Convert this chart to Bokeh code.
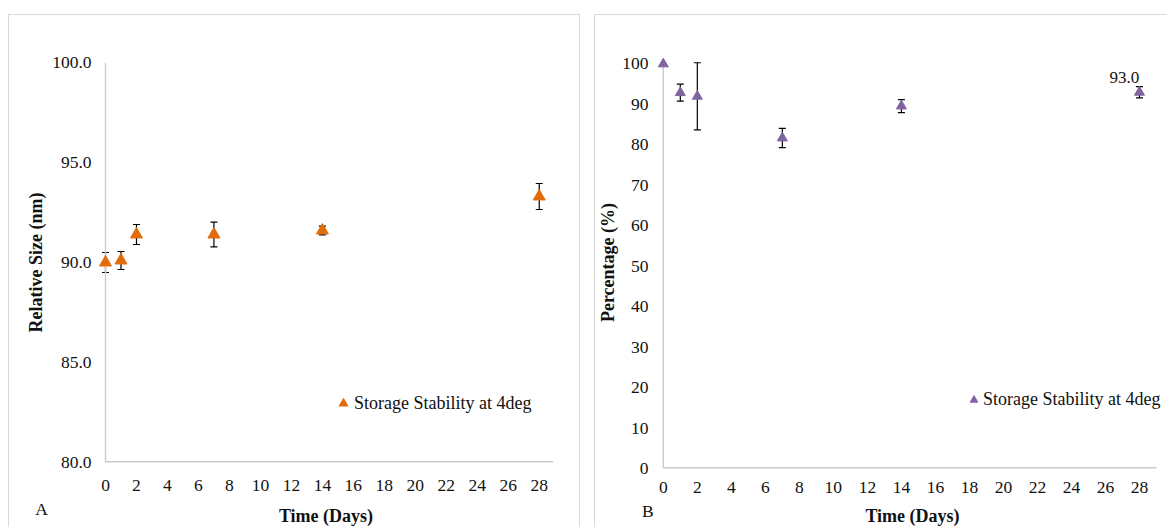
from bokeh.plotting import figure
from bokeh.models import (ColumnDataSource, Whisker, TeeHead, Legend, LegendItem,
                          FixedTicker, NumeralTickFormatter, Range1d)
from bokeh.layouts import row, column
from bokeh.embed import file_html
from bokeh.resources import INLINE
from bokeh.core.properties import value

# ---------------- data ----------------
days = [0, 1, 2, 7, 14, 28]
size_nm = [90.0, 90.1, 91.4, 91.4, 91.6, 93.3]
size_err = [0.5, 0.45, 0.5, 0.62, 0.22, 0.65]
pct = [100.0, 92.9, 92.0, 81.7, 89.6, 93.0]
pct_err = [0.0, 2.1, 8.3, 2.4, 1.6, 1.4]
x_ticks = [0, 2, 4, 6, 8, 10, 12, 14, 16, 18, 20, 22, 24, 26, 28]
y_ticks_a = [80, 85, 90, 95, 100]
y_ticks_b = [0, 10, 20, 30, 40, 50, 60, 70, 80, 90, 100]
series_name = "Storage Stability at 4deg"
x_title = "Time (Days)"
y_title_a = "Relative Size (nm)"
y_title_b = "Percentage (%)"
panel_tags = ["A", "B"]

SERIF = "Times New Roman"
AXIS_COLOR = "#cccccc"
PANEL_BORDER = "1px solid #d9d9d9"
TXT = "#111111"
NBSP = "\u00a0"


def make_panel(x, y, err, color, msize, x_range, x_axis_end, y_range,
               y_ticks, y_fmt, y_title, width, height, borders,
               lbl_std_x, title_std_x, lbl_std_y, title_std_y,
               legend_loc, glyph_box, margin, css, tag, tag_pad):
    p = figure(width=width, height=height, output_backend="svg",
               toolbar_location=None, x_range=Range1d(*x_range),
               y_range=Range1d(*y_range),
               min_border_left=borders[0], min_border_right=borders[1],
               min_border_top=borders[2], min_border_bottom=borders[3],
               styles=css, margin=margin)
    p.grid.visible = False
    p.outline_line_color = None
    p.background_fill_color = "white"
    p.border_fill_color = "white"

    for ax in (p.xaxis, p.yaxis):
        ax.axis_line_color = None  # axis lines drawn from x = 0 / y = min below
        ax.major_tick_line_color = None
        ax.minor_tick_line_color = None
        ax.major_tick_out = 0
        ax.major_tick_in = 0
        ax.major_label_text_font = SERIF
        ax.major_label_text_font_size = "17.5px"
        ax.major_label_text_color = TXT
        ax.axis_label_text_font = SERIF
        ax.axis_label_text_font_size = "18px"
        ax.axis_label_text_font_style = "bold"
        ax.axis_label_text_color = TXT

    # panel tag ("A"/"B") printed as a second line under the frame's left corner
    tag_x = x_range[0] + 0.002
    p.xaxis.ticker = FixedTicker(ticks=[tag_x] + x_ticks)
    p.xaxis.major_label_overrides = {tag_x: "\n" + tag + NBSP * tag_pad}
    p.yaxis.ticker = FixedTicker(ticks=y_ticks)
    p.yaxis.formatter = NumeralTickFormatter(format=y_fmt)
    p.xaxis.axis_label = x_title
    p.yaxis.axis_label = y_title
    p.xaxis.major_label_standoff = lbl_std_x
    p.xaxis.axis_label_standoff = title_std_x
    p.yaxis.major_label_standoff = lbl_std_y
    p.yaxis.axis_label_standoff = title_std_y

    # axis lines: y axis at x = 0, x axis along the bottom from x = 0
    p.segment(x0=[x_ticks[0]], y0=[y_ticks[0]], x1=[x_ticks[0]], y1=[y_ticks[-1]],
              line_color=AXIS_COLOR, line_width=1.4)
    p.segment(x0=[x_ticks[0]], y0=[y_range[0]], x1=[x_axis_end], y1=[y_range[0]],
              line_color=AXIS_COLOR, line_width=2.8)

    wx = [xi for xi, e in zip(x, err) if e > 0]
    wu = [yi + e for yi, e in zip(y, err) if e > 0]
    wl = [yi - e for yi, e in zip(y, err) if e > 0]
    wsrc = ColumnDataSource(dict(x=wx, upper=wu, lower=wl))
    wh = Whisker(base="x", upper="upper", lower="lower", source=wsrc,
                 line_color="black", line_width=1.2,
                 upper_head=TeeHead(size=7, line_color="black", line_width=1.2),
                 lower_head=TeeHead(size=7, line_color="black", line_width=1.2))
    p.add_layout(wh)

    src = ColumnDataSource(dict(x=x, y=y))
    r = p.scatter("x", "y", source=src, marker="triangle", size=msize,
                  fill_color=color, line_color=color)

    leg = Legend(items=[LegendItem(label=series_name, renderers=[r])],
                 location=legend_loc, padding=0, margin=0, spacing=0,
                 glyph_width=glyph_box, glyph_height=glyph_box,
                 label_standoff=0,
                 border_line_color=None, background_fill_alpha=0,
                 label_text_font=SERIF, label_text_font_size="18px",
                 label_text_color=TXT)
    p.add_layout(leg, "center")
    return p


# Panel A
pA = make_panel(days, size_nm, size_err, "#E36C0A", 12,
                (-0.452, 28.92), 28.92, (80, 100),
                y_ticks_a, "0.0", y_title_a, 572, 513,
                (89, 28, 47, 65), 12, -16, 7, 3,
                (234, 48), 22, (14, 0, 0, 8),
                {"border-top": PANEL_BORDER, "border-left": PANEL_BORDER,
                 "border-right": PANEL_BORDER},
                panel_tags[0], 26)

# Panel B
pB = make_panel(days, pct, pct_err, "#8064A2", 10,
                (-0.4, 29.706), 29.0, (0, 101.85),
                y_ticks_b, "0", y_title_b, 573, 513,
                (61, 0, 41, 59), 8, -18, 8, 1,
                (308, 58), 19, (14, 0, 0, 14),
                {"border-top": PANEL_BORDER, "border-left": PANEL_BORDER},
                panel_tags[1], 4)
last = len(days) - 1
lab_src = ColumnDataSource(dict(x=[days[last]], y=[pct[last]],
                                t=[f"{pct[last]:.1f}"]))
pB.text("x", "y", text="t", source=lab_src, x_offset=-15, y_offset=-15,
        text_font=value(SERIF), text_font_size="17px", text_color=TXT,
        text_align="center", text_baseline="middle")

layout = row(column(pA), column(pB))
open("out.html", "w").write(file_html(layout, INLINE))
